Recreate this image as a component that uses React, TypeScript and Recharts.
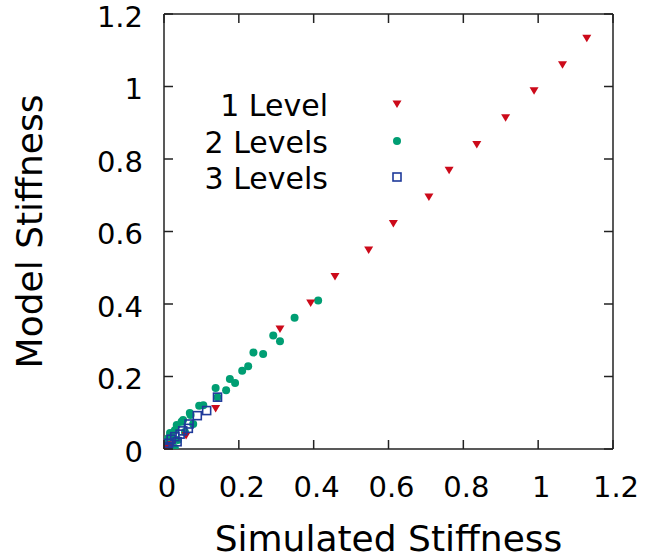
import { ScatterChart, Scatter, XAxis, YAxis, Legend } from 'recharts'

// simulated vs model stiffness, [simulated, model]
const level1: [number, number][] = [
  [1.13, 1.133], [1.065, 1.06], [0.989, 0.988], [0.913, 0.914], [0.836, 0.84],
  [0.762, 0.769], [0.708, 0.695], [0.613, 0.622], [0.547, 0.549], [0.457, 0.476],
  [0.392, 0.403], [0.31, 0.331], [0.138, 0.112], [0.059, 0.037], [0.02, 0.012],
  [0.005, 0.003],
]

const level2: [number, number][] = [
  [0.412, 0.41], [0.349, 0.362], [0.292, 0.313], [0.31, 0.297], [0.239, 0.266],
  [0.265, 0.262], [0.225, 0.228], [0.209, 0.216], [0.176, 0.193], [0.19, 0.182],
  [0.138, 0.168], [0.166, 0.162], [0.143, 0.143], [0.094, 0.119], [0.105, 0.121],
  [0.071, 0.094], [0.078, 0.069], [0.047, 0.075], [0.069, 0.099], [0.051, 0.08],
  [0.034, 0.066], [0.029, 0.052], [0.016, 0.044], [0.011, 0.03], [0.003, 0.02],
  [0.037, 0.025], [0.056, 0.047], [0.029, 0.003], [0.0, 0.01], [0.02, 0.035],
]

const level3: [number, number][] = [
  [0.143, 0.143], [0.114, 0.106], [0.089, 0.092], [0.067, 0.069], [0.065, 0.057],
  [0.043, 0.041], [0.029, 0.034], [0.019, 0.027], [0.012, 0.016], [0.003, 0.002],
  [0.05, 0.05], [0.035, 0.02], [0.008, 0.006],
]

const seriesNames = ['1 Level', '2 Levels', '3 Levels']
const ticks = [0, 0.2, 0.4, 0.6, 0.8, 1, 1.2]

const RED = '#cc0a1a'
const GREEN = '#009e73'
const BLUE = '#1f3a9a'
const AXIS = '#222'
const TICK_LEN = 9

const toPoints = (pts: [number, number][]) => pts.map(([x, y]) => ({ x, y }))

const Triangle = ({ cx, cy }: any) => (
  <polygon points={`${cx - 4.5},${cy - 3.5} ${cx + 4.5},${cy - 3.5} ${cx},${cy + 4}`} fill={RED} />
)
const Dot = ({ cx, cy }: any) => <circle cx={cx} cy={cy} r={4} fill={GREEN} />
const Square = ({ cx, cy }: any) => (
  <rect x={cx - 4} y={cy - 4} width={8} height={8} fill="none" stroke={BLUE} strokeWidth={1.6} />
)
const Nothing = () => <g />

const shapes = [Triangle, Dot, Square]
const rowY = [104, 141, 177]

function KeyBox() {
  return (
    <svg width={662} height={200} style={{ display: 'block' }}>
      {seriesNames.map((name, i) => {
        const Shape = shapes[i]
        return (
          <g key={name}>
            <text x={328} y={rowY[i] + 11.5} textAnchor="end" fontSize={30} fill="#000">{name}</text>
            <Shape cx={397} cy={rowY[i]} />
          </g>
        )
      })}
    </svg>
  )
}

const fmt = (v: number) => String(v)

// inward ticks, gnuplot style
const BottomTick = ({ y, payload }: any) => {
  const c = payload.coordinate
  return (
    <g>
      <line x1={c} x2={c} y1={y} y2={y - TICK_LEN} stroke={AXIS} strokeWidth={1.5} />
      <text x={c + 3} y={y + 48} textAnchor="middle" fontSize={29} fill="#000">{fmt(payload.value)}</text>
    </g>
  )
}
const LeftTick = ({ x, payload }: any) => {
  const c = payload.coordinate
  return (
    <g>
      <line x1={x} x2={x + TICK_LEN} y1={c} y2={c} stroke={AXIS} strokeWidth={1.5} />
      <text x={x - 21} y={c + 12.5} textAnchor="end" fontSize={29} fill="#000">{fmt(payload.value)}</text>
    </g>
  )
}
const TopTick = ({ y, payload }: any) => {
  const c = payload.coordinate
  return <line x1={c} x2={c} y1={y} y2={y + TICK_LEN} stroke={AXIS} strokeWidth={1.5} />
}
const RightTick = ({ x, payload }: any) => {
  const c = payload.coordinate
  return <line x1={x} x2={x - TICK_LEN} y1={c} y2={c} stroke={AXIS} strokeWidth={1.5} />
}

export default function App() {
  return (
    <div style={{ position: 'absolute', left: 0, top: 0, fontFamily: 'DejaVu Sans', background: '#fff' }}>
      <ScatterChart width={662} height={560} margin={{ top: 13, right: 48, bottom: 0, left: 0 }}>
        <XAxis
          xAxisId="b"
          type="number"
          dataKey="x"
          domain={[0, 1.2]}
          ticks={ticks}
          allowDataOverflow
          height={111}
          tickSize={0}
          tickMargin={0}
          tickLine={false}
          tick={BottomTick}
          stroke={AXIS}
          strokeWidth={1.5}
          label={{ value: 'Simulated Stiffness', position: 'insideBottom', offset: 9, fontSize: 36, fill: '#000' }}
        />
        <XAxis
          xAxisId="t"
          orientation="top"
          type="number"
          dataKey="x"
          domain={[0, 1.2]}
          ticks={ticks}
          allowDataOverflow
          height={1}
          tickSize={0}
          tickMargin={0}
          tickLine={false}
          tick={TopTick}
          stroke={AXIS}
          strokeWidth={1.5}
        />
        <YAxis
          yAxisId="l"
          type="number"
          dataKey="y"
          domain={[0, 1.2]}
          ticks={ticks}
          allowDataOverflow
          width={164}
          tickSize={0}
          tickMargin={0}
          tickLine={false}
          tick={LeftTick}
          stroke={AXIS}
          strokeWidth={1.5}
          label={{ value: 'Model Stiffness', angle: -90, position: 'insideLeft', offset: 29, fontSize: 36, fill: '#000', style: { textAnchor: 'middle' } }}
        />
        <YAxis
          yAxisId="r"
          orientation="right"
          type="number"
          dataKey="y"
          domain={[0, 1.2]}
          ticks={ticks}
          allowDataOverflow
          width={1}
          tickSize={0}
          tickMargin={0}
          tickLine={false}
          tick={RightTick}
          stroke={AXIS}
          strokeWidth={1.5}
        />
        <Legend
          layout="horizontal"
          verticalAlign="middle"
          align="center"
          content={() => <KeyBox />}
          wrapperStyle={{ left: 0, top: 0, width: 662, height: 200, pointerEvents: 'none' }}
        />
        {/* hidden series so the mirrored top/right axes get drawn */}
        <Scatter xAxisId="t" yAxisId="r" data={toPoints(level1)} shape={Nothing} legendType="none" isAnimationActive={false} />
        <Scatter name={seriesNames[1]} xAxisId="b" yAxisId="l" data={toPoints(level2)} shape={Dot} isAnimationActive={false} />
        <Scatter name={seriesNames[0]} xAxisId="b" yAxisId="l" data={toPoints(level1)} shape={Triangle} isAnimationActive={false} />
        <Scatter name={seriesNames[2]} xAxisId="b" yAxisId="l" data={toPoints(level3)} shape={Square} isAnimationActive={false} />
      </ScatterChart>
    </div>
  )
}
